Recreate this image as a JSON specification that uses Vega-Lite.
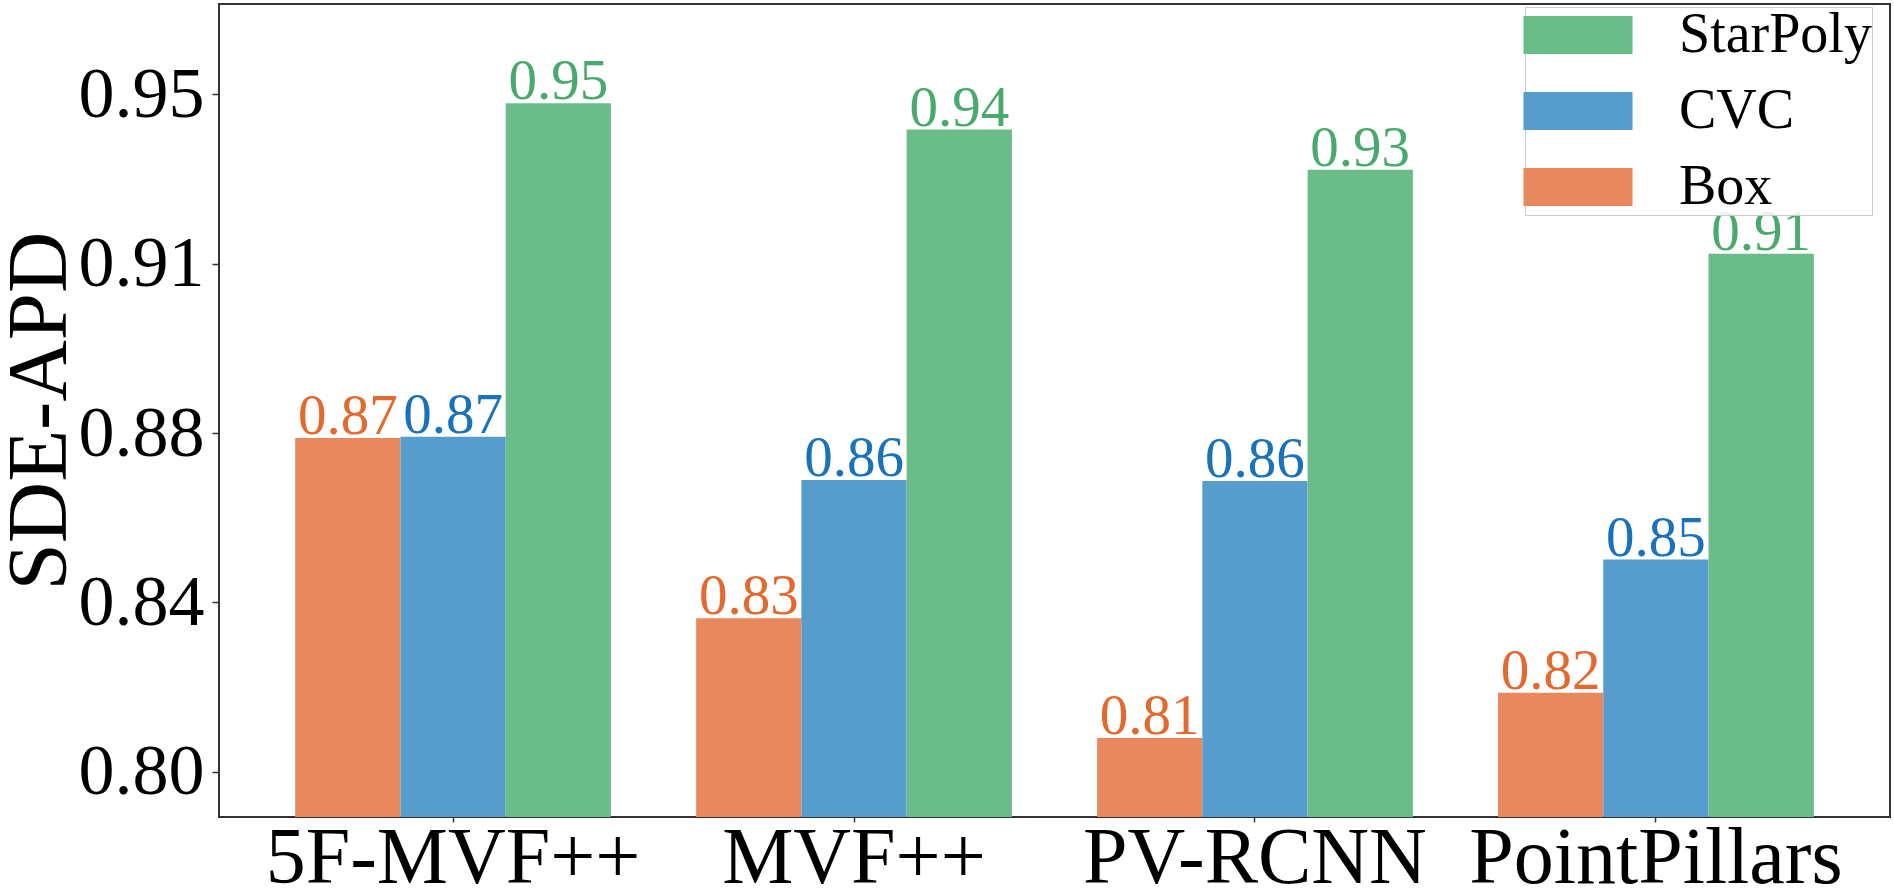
{
  "$schema": "https://vega.github.io/schema/vega-lite/v6.json",
  "width": 1671,
  "height": 813,
  "autosize": "none",
  "padding": {"left": 219, "top": 4, "right": 4, "bottom": 75},
  "background": "white",
  "config": {
    "font": "Liberation Serif",
    "view": {"stroke": "#333333", "strokeWidth": 2}
  },
  "data": {
    "values": [
      {"model": "5F-MVF++", "method": "Box", "value": 0.8739},
      {"model": "5F-MVF++", "method": "CVC", "value": 0.8742},
      {"model": "5F-MVF++", "method": "StarPoly", "value": 0.948},
      {"model": "MVF++", "method": "Box", "value": 0.834},
      {"model": "MVF++", "method": "CVC", "value": 0.8646},
      {"model": "MVF++", "method": "StarPoly", "value": 0.9422},
      {"model": "PV-RCNN", "method": "Box", "value": 0.8075},
      {"model": "PV-RCNN", "method": "CVC", "value": 0.8644},
      {"model": "PV-RCNN", "method": "StarPoly", "value": 0.9333},
      {"model": "PointPillars", "method": "Box", "value": 0.8175},
      {"model": "PointPillars", "method": "CVC", "value": 0.847},
      {"model": "PointPillars", "method": "StarPoly", "value": 0.9147}
    ]
  },
  "encoding": {
    "x": {
      "field": "model",
      "type": "nominal",
      "sort": ["5F-MVF++", "MVF++", "PV-RCNN", "PointPillars"],
      "scale": {"paddingInner": 0.2124, "paddingOuter": 0.19},
      "axis": {
        "title": null,
        "labelAngle": 0,
        "labelLimit": 0,
        "labelFontSize": 80,
        "labelColor": "black",
        "labelFont": "Liberation Serif",
        "labelBaseline": "alphabetic",
        "labelPadding": 60,
        "tickSize": 5,
        "tickColor": "#333333",
        "tickWidth": 1.5,
        "domain": false
      }
    },
    "xOffset": {
      "field": "method",
      "type": "nominal",
      "sort": ["Box", "CVC", "StarPoly"],
      "scale": {"paddingInner": 0, "paddingOuter": 0}
    },
    "y": {
      "field": "value",
      "type": "quantitative",
      "scale": {"domain": [0.79, 0.97], "zero": false, "nice": false},
      "axis": {
        "title": "SDE-APD",
        "values": [0.8, 0.8375, 0.875, 0.9125, 0.95],
        "format": ".2f",
        "grid": false,
        "domain": false,
        "labelFontSize": 72,
        "labelColor": "black",
        "labelFont": "Liberation Serif",
        "labelPadding": 8,
        "tickSize": 7,
        "tickColor": "#333333",
        "tickWidth": 1.5,
        "titleFont": "Liberation Serif",
        "titleFontSize": 85,
        "titleFontWeight": "normal",
        "titleColor": "black",
        "titlePadding": -5
      }
    }
  },
  "layer": [
    {
      "mark": {"type": "bar", "clip": true},
      "encoding": {
        "color": {
          "field": "method",
          "type": "nominal",
          "scale": {
            "domain": ["StarPoly", "CVC", "Box"],
            "range": ["#6ABD89", "#569CCC", "#E8885C"]
          },
          "legend": {
            "title": null,
            "orient": "none",
            "legendX": 1306,
            "legendY": 3,
            "symbolType": "M-2.87,-1H2.87V1H-2.87Z",
            "symbolSize": 1444,
            "symbolStrokeWidth": 0,
            "symbolOpacity": 1,
            "symbolOffset": 25,
            "labelOffset": 73,
            "labelLimit": 0,
            "labelFont": "Liberation Serif",
            "labelFontSize": 56,
            "labelColor": "black",
            "fillColor": "rgba(255,255,255,0.85)",
            "strokeColor": "#cccccc",
            "padding": 0,
            "rowPadding": 20
          }
        }
      }
    },
    {
      "mark": {"type": "text", "baseline": "alphabetic", "dy": -4, "fontSize": 57, "font": "Liberation Serif"},
      "encoding": {
        "text": {"field": "value", "type": "quantitative", "format": ".2f"},
        "color": {
          "field": "method",
          "type": "nominal",
          "scale": {
            "domain": ["StarPoly", "CVC", "Box"],
            "range": ["#4AAA6C", "#1A73BA", "#E4692E"]
          },
          "legend": null
        }
      }
    }
  ],
  "resolve": {"scale": {"color": "independent"}}
}
